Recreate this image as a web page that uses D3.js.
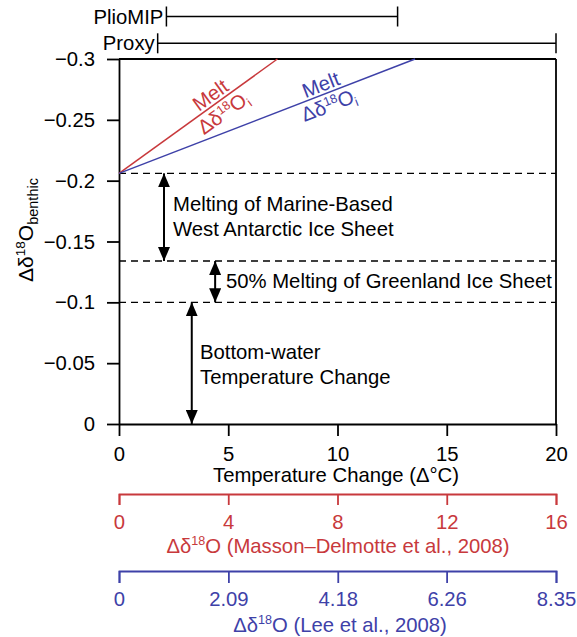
<!DOCTYPE html>
<html>
<head>
<meta charset="utf-8">
<script src="https://cdn.jsdelivr.net/npm/d3@7"></script>
<style>
  html, body { margin: 0; padding: 0; background: #fff; }
  svg { display: block; font-family: "Liberation Sans", Arial, sans-serif; }
</style>
</head>
<body>
<svg id="chart" width="577" height="637"></svg>
<script>
// ---------- data ----------
const yTicks = [0, -0.05, -0.1, -0.15, -0.2, -0.25, -0.3];
const yTickLabels = ["0", "\u22120.05", "\u22120.1", "\u22120.15", "\u22120.2", "\u22120.25", "\u22120.3"];
const xTicks = [0, 5, 10, 15, 20];
const redTicks = [0, 4, 8, 12, 16];
const blueTicks = [0, 2.09, 4.18, 6.26, 8.35];
const blueTickLabels = ["0", "2.09", "4.18", "6.26", "8.35"];
const levels = [-0.206, -0.134, -0.1];
const redLine = [[0, -0.206], [7.25, -0.3]];
const blueLine = [[0, -0.206], [13.55, -0.3]];
const rangeNames = ["PlioMIP", "Proxy"];
const rangeLo = [2.17, 1.77];
const rangeHi = [12.75, 20];
const arrowX = [2.06, 4.4, 3.33];
const arrowTop = [-0.206, -0.134, -0.1];
const arrowBottom = [-0.134, -0.1, 0];

const RED = "#c8393c", BLUE = "#3e41a8";
const FS = 20.3;

const svg = d3.select("#chart");
const x = d3.scaleLinear().domain([0, 20]).range([119, 556]);
const y = d3.scaleLinear().domain([0, -0.3]).range([424, 59]);
const xr = d3.scaleLinear().domain([0, 16]).range([119, 556]);
const xb = d3.scaleLinear().domain([0, 8.35]).range([119, 556]);

function styleAxis(g, color) {
  g.attr("font-family", null).attr("font-size", null);
  g.selectAll("path, line").attr("stroke", color).attr("stroke-width", 1.8);
  g.selectAll("text").attr("fill", color).style("font-size", FS + "px");
}

// frame
svg.append("line").attr("x1", x(0)).attr("x2", x(20)).attr("y1", y(-0.3)).attr("y2", y(-0.3))
  .attr("stroke", "#000").attr("stroke-width", 1.8);
svg.append("line").attr("x1", x(20)).attr("x2", x(20)).attr("y1", y(-0.3)).attr("y2", y(0))
  .attr("stroke", "#000").attr("stroke-width", 1.8);

// y axis
svg.append("g").attr("transform", `translate(${x(0)},0)`)
  .call(d3.axisLeft(y).tickValues(yTicks).tickFormat((d, i) => yTickLabels[i]).tickSize(12).tickSizeOuter(0).tickPadding(12))
  .call(g => styleAxis(g, "#000"));

// x axis
svg.append("g").attr("transform", `translate(0,${y(0)})`)
  .call(d3.axisBottom(x).tickValues(xTicks).tickFormat(d3.format("d")).tickSize(12).tickSizeOuter(0).tickPadding(11))
  .call(g => styleAxis(g, "#000"));
svg.append("text").attr("x", 336).attr("y", 482).attr("text-anchor", "middle")
  .style("font-size", FS + "px").text("Temperature Change (\u0394\u00b0C)");

// red axis
svg.append("g").attr("transform", "translate(0,494)")
  .call(d3.axisBottom(xr).tickValues(redTicks).tickFormat(d3.format("d")).tickSize(11).tickSizeOuter(11).tickPadding(10))
  .call(g => styleAxis(g, RED));
// blue axis
svg.append("g").attr("transform", "translate(0,571)")
  .call(d3.axisBottom(xb).tickValues(blueTicks).tickFormat((d, i) => blueTickLabels[i]).tickSize(12).tickSizeOuter(12).tickPadding(9))
  .call(g => styleAxis(g, BLUE));

function deltaLabel(sel, tail, fs) {
  sel.append("tspan").text("\u0394\u03b4");
  sel.append("tspan").attr("dy", -fs * 0.38).style("font-size", (fs * 0.62) + "px").text("18");
  sel.append("tspan").attr("dy", fs * 0.38).text("O" + tail);
}
const rt = svg.append("text").attr("x", 338).attr("y", 553).attr("text-anchor", "middle")
  .attr("fill", RED).style("font-size", FS + "px");
deltaLabel(rt, " (Masson\u2013Delmotte et al., 2008)", FS);
const bt = svg.append("text").attr("x", 340).attr("y", 632).attr("text-anchor", "middle")
  .attr("fill", BLUE).style("font-size", FS + "px");
deltaLabel(bt, " (Lee et al., 2008)", FS);

// y title
const yt = svg.append("text").attr("transform", "translate(33,230) rotate(-90)").attr("text-anchor", "middle")
  .style("font-size", "21px");
yt.append("tspan").text("\u0394\u03b4");
yt.append("tspan").attr("dy", -8).style("font-size", "13.5px").text("18");
yt.append("tspan").attr("dy", 8).text("O");
yt.append("tspan").attr("dy", 5).style("font-size", "14.5px").text("benthic");

// dashed levels
svg.selectAll("line.level").data(levels).join("line").attr("class", "level")
  .attr("x1", x(0)).attr("x2", x(20)).attr("y1", d => y(d)).attr("y2", d => y(d))
  .attr("stroke", "#000").attr("stroke-width", 1.4).attr("stroke-dasharray", "7,5");

// melt lines
const line = d3.line().x(d => x(d[0])).y(d => y(d[1]));
svg.append("path").datum(redLine).attr("d", line).attr("fill", "none").attr("stroke", RED).attr("stroke-width", 1.5);
svg.append("path").datum(blueLine).attr("d", line).attr("fill", "none").attr("stroke", BLUE).attr("stroke-width", 1.5);

function lineLabel(pts, tx, color) {
  const x0 = x(pts[0][0]), y0 = y(pts[0][1]), x1 = x(pts[1][0]), y1 = y(pts[1][1]);
  const ang = Math.atan2(y1 - y0, x1 - x0) * 180 / Math.PI;
  const px = x(tx), py = y0 + (px - x0) * (y1 - y0) / (x1 - x0);
  const g = svg.append("g").attr("transform", `translate(${px},${py}) rotate(${ang})`).attr("fill", color);
  g.append("text").attr("text-anchor", "middle").attr("y", -3).style("font-size", FS + "px").text("Melt");
  const t = g.append("text").attr("text-anchor", "middle").attr("y", 19).style("font-size", FS + "px");
  t.append("tspan").text("\u0394\u03b4");
  t.append("tspan").attr("dy", -7).style("font-size", "12.5px").text("18");
  t.append("tspan").attr("dy", 7).text("O");
  t.append("tspan").attr("dy", 4).style("font-size", "12.5px").text("i");
}
lineLabel(redLine, 4.45, RED);
lineLabel(blueLine, 9.4, BLUE);

// range bars
const barY = [16.5, 43.3];
rangeNames.forEach((n, i) => {
  const g = svg.append("g").attr("stroke", "#000").attr("stroke-width", 1.5);
  g.append("line").attr("x1", x(rangeLo[i])).attr("x2", x(rangeHi[i])).attr("y1", barY[i]).attr("y2", barY[i]);
  g.append("line").attr("x1", x(rangeLo[i])).attr("x2", x(rangeLo[i])).attr("y1", barY[i] - 10).attr("y2", barY[i] + 10);
  g.append("line").attr("x1", x(rangeHi[i])).attr("x2", x(rangeHi[i])).attr("y1", barY[i] - 10).attr("y2", barY[i] + 10);
  svg.append("text").attr("x", x(rangeLo[i]) - 3).attr("y", barY[i] + 7).attr("text-anchor", "end")
    .style("font-size", FS + "px").text(n);
});

// arrows
svg.append("defs").append("marker").attr("id", "ah").attr("viewBox", "0 0 14 12")
  .attr("refX", 14).attr("refY", 6).attr("markerWidth", 14).attr("markerHeight", 12)
  .attr("markerUnits", "userSpaceOnUse").attr("orient", "auto-start-reverse")
  .append("path").attr("d", "M0,0L14,6L0,12Z").attr("fill", "#000");
arrowX.forEach((ax, i) => {
  svg.append("line").attr("x1", x(ax)).attr("x2", x(ax)).attr("y1", y(arrowTop[i])).attr("y2", y(arrowBottom[i]))
    .attr("stroke", "#000").attr("stroke-width", 2)
    .attr("marker-start", "url(#ah)").attr("marker-end", "url(#ah)");
});

// annotations
const ann = [
  {x: 173, y: 211, lines: ["Melting of Marine-Based", "West Antarctic Ice Sheet"]},
  {x: 226, y: 288, lines: ["50% Melting of Greenland Ice Sheet"]},
  {x: 200, y: 359, lines: ["Bottom-water", "Temperature Change"]}
];
ann.forEach(a => {
  const t = svg.append("text").attr("x", a.x).attr("y", a.y).style("font-size", FS + "px");
  a.lines.forEach((l, i) => t.append("tspan").attr("x", a.x).attr("dy", i ? 24.5 : 0).text(l));
});
</script>
</body>
</html>
